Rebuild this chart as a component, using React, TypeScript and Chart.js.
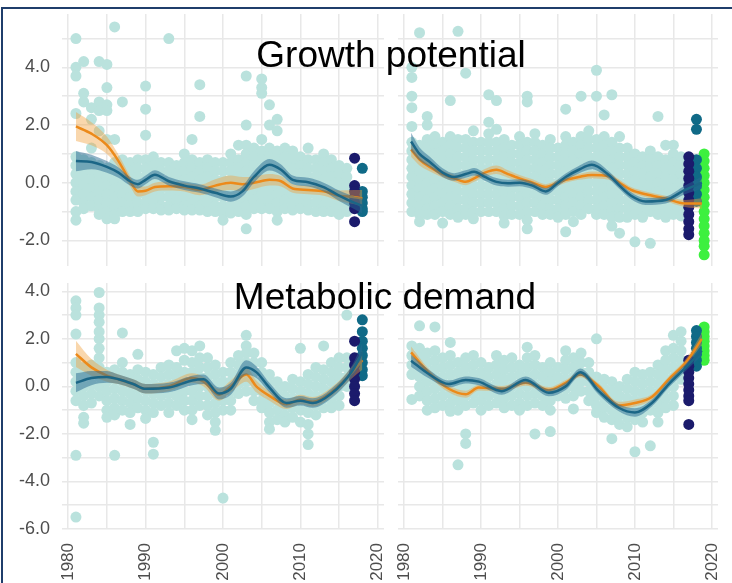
import React, { useEffect, useRef } from 'react';
import { Chart, registerables } from 'chart.js';

Chart.register(...registerables);

type Col = [number, number[]];

// ---------- axes ----------
const xTicks = [1980, 1985, 1990, 1995, 2000, 2005, 2010, 2015, 2020];
const yTicksTop = [-2, -1, 0, 1, 2, 3, 4, 5];
const yTicksBottom = [-6, -5, -4, -3, -2, -1, 0, 1, 2, 3, 4];
const titleTop = 'Growth potential';
const titleBottom = 'Metabolic demand';

// ---------- Growth potential, left ----------
const gpLPale: Col[] = [
  [1981, [5.0, 4.0, 3.7, 2.4, 0.9, 0.6, 0.3, 0.0, -0.3, -0.6, -1.0, -1.3]],
  [1982, [4.2, 3.1, 2.8, 0.8, 0.5, 0.2, -0.1, -0.4, -0.7, -0.9]],
  [1983, [2.6, 2.2, 1.2, 0.7, 0.4, 0.1, -0.2, -0.5, -0.8]],
  [1984, [4.2, 2.8, 2.5, 1.8, 0.6, 0.3, 0.0, -0.3, -0.6, -0.9, -1.1]],
  [1985, [4.1, 3.3, 2.7, 2.5, 1.5, 0.5, 0.2, -0.1, -0.4, -0.7, -1.0, -1.25]],
  [1986, [5.4, 1.5, 0.7, 0.4, 0.1, -0.2, -0.5, -0.8, -1.1, -1.25]],
  [1987, [2.8, 0.8, 0.5, 0.2, -0.1, -0.4, -0.7, -1.0]],
  [1988, [0.7, 0.4, 0.1, -0.2, -0.5, -0.8, -1.0]],
  [1989, [0.8, 0.5, 0.2, -0.1, -0.4, -0.7, -1.0]],
  [1990, [3.35, 2.55, 1.65, 0.8, 0.5, 0.2, -0.1, -0.4, -0.7, -0.9]],
  [1991, [0.9, 0.6, 0.3, 0.0, -0.3, -0.6, -0.9]],
  [1992, [0.7, 0.4, 0.1, -0.2, -0.5, -0.8, -0.95]],
  [1993, [5.0, 0.7, 0.4, 0.1, -0.2, -0.5, -0.8, -0.95]],
  [1994, [0.6, 0.3, 0.0, -0.3, -0.6, -0.9]],
  [1995, [1.0, 0.7, 0.4, 0.1, -0.2, -0.5, -0.8, -0.95]],
  [1996, [1.5, 0.8, 0.5, 0.2, -0.1, -0.4, -0.7, -0.95]],
  [1997, [3.4, 2.3, 0.7, 0.4, 0.1, -0.2, -0.5, -0.8, -0.95]],
  [1998, [0.8, 0.5, 0.2, -0.1, -0.4, -0.7, -1.0]],
  [1999, [0.7, 0.4, 0.1, -0.2, -0.5, -0.8, -1.0]],
  [2000, [0.7, 0.4, 0.1, -0.2, -0.5, -0.8, -1.05, -1.3]],
  [2001, [1.0, 0.7, 0.4, 0.1, -0.2, -0.5, -0.8, -1.05]],
  [2002, [1.3, 0.8, 0.5, 0.2, -0.1, -0.4, -0.7, -1.0]],
  [2003, [3.7, 2.0, 1.3, 1.0, 0.7, 0.4, 0.1, -0.2, -0.5, -0.8, -1.1, -1.6]],
  [2004, [1.2, 0.9, 0.6, 0.3, 0.0, -0.3, -0.6, -0.9]],
  [2005, [3.6, 3.3, 3.1, 1.5, 1.1, 0.8, 0.5, 0.2, -0.1, -0.4, -0.7, -0.9]],
  [2006, [2.7, 2.0, 1.2, 0.9, 0.6, 0.3, 0.0, -0.3, -0.6, -0.9]],
  [2007, [2.2, 1.8, 1.1, 0.8, 0.5, 0.2, -0.1, -0.4, -0.7, -1.0, -1.3]],
  [2008, [1.2, 0.9, 0.6, 0.3, 0.0, -0.3, -0.6, -0.9]],
  [2009, [1.1, 0.8, 0.5, 0.2, -0.1, -0.4, -0.7, -0.95]],
  [2010, [0.9, 0.6, 0.3, 0.0, -0.3, -0.6, -0.9]],
  [2011, [1.2, 0.8, 0.5, 0.2, -0.1, -0.4, -0.7, -0.95]],
  [2012, [0.8, 0.5, 0.2, -0.1, -0.4, -0.7, -1.0]],
  [2013, [1.0, 0.7, 0.4, 0.1, -0.2, -0.5, -0.8, -1.0]],
  [2014, [0.8, 0.5, 0.2, -0.1, -0.4, -0.7, -1.0]],
  [2015, [0.6, 0.3, 0.0, -0.3, -0.6, -0.9, -1.1]],
  [2016, [0.5, 0.2, -0.1, -0.4, -0.7, -1.0]],
];
const gpLNavy: Col[] = [[2017, [0.85, -0.1, -0.3, -0.5, -0.7, -0.9, -1.35]]];
const gpLTeal: Col[] = [[2018, [0.5, -0.3, -0.5, -0.7, -0.9, -1.0]]];
const gpLGreen: Col[] = [];
const gpLYears = [1981, 1983, 1985, 1986.5, 1988, 1989, 1990, 1991.2, 1993, 1995, 1997, 1999, 2001, 2002.5, 2004, 2006, 2007.5, 2009, 2011, 2013, 2015, 2017, 2018];
const gpLBlue = [0.75, 0.72, 0.55, 0.35, 0.05, -0.05, 0.1, 0.28, 0.05, -0.1, -0.2, -0.35, -0.48, -0.3, 0.2, 0.62, 0.45, 0.1, 0.02, -0.15, -0.45, -0.7, -0.8];
const gpLOrange = [1.95, 1.7, 1.3, 0.75, 0.05, -0.3, -0.28, -0.15, -0.12, -0.15, -0.25, -0.1, 0.0, -0.05, 0.0, 0.1, 0.05, -0.2, -0.25, -0.3, -0.45, -0.5, -0.55];
const gpLBlueSe = [0.35, 0.25, 0.2, 0.18, 0.15, 0.15, 0.15, 0.15, 0.15, 0.15, 0.15, 0.15, 0.18, 0.18, 0.2, 0.2, 0.18, 0.15, 0.15, 0.15, 0.18, 0.22, 0.28];
const gpLOrangeSe = [0.5, 0.4, 0.3, 0.22, 0.18, 0.18, 0.15, 0.15, 0.15, 0.15, 0.18, 0.22, 0.25, 0.25, 0.22, 0.2, 0.18, 0.15, 0.15, 0.15, 0.18, 0.25, 0.3];

// ---------- Growth potential, right ----------
const gpRPale: Col[] = [
  [1981, [4.0, 3.65, 3.0, 2.6, 1.95, 1.4, 1.1, 0.8, 0.5, 0.2, -0.1, -0.4, -0.7, -1.0]],
  [1982, [5.2, 1.3, 1.0, 0.7, 0.4, 0.1, -0.2, -0.5, -0.8, -1.1, -1.35]],
  [1983, [2.3, 2.0, 1.5, 1.2, 0.9, 0.6, 0.3, 0.0, -0.3, -0.6, -0.9, -1.1]],
  [1984, [1.6, 1.3, 1.0, 0.7, 0.4, 0.1, -0.2, -0.5, -0.8, -1.1]],
  [1985, [1.4, 1.1, 0.8, 0.5, 0.2, -0.1, -0.4, -0.7, -1.0, -1.4]],
  [1986, [2.85, 1.6, 1.3, 1.0, 0.7, 0.4, 0.1, -0.2, -0.5, -0.8, -1.1]],
  [1987, [5.25, 1.5, 1.2, 0.9, 0.6, 0.3, 0.0, -0.3, -0.6, -0.9, -1.2]],
  [1988, [3.8, 1.5, 1.2, 0.9, 0.6, 0.3, 0.0, -0.3, -0.6, -0.9, -1.1]],
  [1989, [1.8, 1.4, 1.1, 0.8, 0.5, 0.2, -0.1, -0.4, -0.7, -1.0, -1.25]],
  [1990, [1.4, 1.1, 0.8, 0.5, 0.2, -0.1, -0.4, -0.7, -1.0]],
  [1991, [3.05, 2.1, 1.7, 1.4, 1.1, 0.8, 0.5, 0.2, -0.1, -0.4, -0.7, -1.0]],
  [1992, [2.85, 1.85, 1.4, 1.1, 0.8, 0.5, 0.2, -0.1, -0.4, -0.7, -1.0]],
  [1993, [1.5, 1.2, 0.9, 0.6, 0.3, 0.0, -0.3, -0.6, -0.9, -1.15, -1.4]],
  [1994, [1.3, 1.0, 0.7, 0.4, 0.1, -0.2, -0.5, -0.8, -1.1]],
  [1995, [1.6, 1.3, 1.0, 0.7, 0.4, 0.1, -0.2, -0.5, -0.8, -1.1]],
  [1996, [3.0, 2.8, 1.4, 1.1, 0.8, 0.5, 0.2, -0.1, -0.4, -0.7, -1.0, -1.3, -1.6]],
  [1997, [1.7, 1.4, 1.1, 0.8, 0.5, 0.2, -0.1, -0.4, -0.7, -1.0]],
  [1998, [1.3, 1.0, 0.7, 0.4, 0.1, -0.2, -0.5, -0.8, -1.1]],
  [1999, [1.5, 1.2, 0.9, 0.6, 0.3, 0.0, -0.3, -0.6, -0.9, -1.1]],
  [2000, [1.2, 0.9, 0.6, 0.3, 0.0, -0.3, -0.6, -0.9, -1.2]],
  [2001, [2.55, 1.6, 1.3, 1.0, 0.7, 0.4, 0.1, -0.2, -0.5, -0.8, -1.1, -1.7]],
  [2002, [1.4, 1.1, 0.8, 0.5, 0.2, -0.1, -0.4, -0.7, -1.0, -1.35]],
  [2003, [3.0, 1.6, 1.3, 1.0, 0.7, 0.4, 0.1, -0.2, -0.5, -0.8, -1.1]],
  [2004, [1.8, 1.5, 1.2, 0.9, 0.6, 0.3, 0.0, -0.3, -0.6, -0.9]],
  [2005, [3.9, 3.0, 1.5, 1.2, 0.9, 0.6, 0.3, 0.0, -0.3, -0.6, -0.9, -1.1]],
  [2006, [2.35, 1.6, 1.3, 1.0, 0.7, 0.4, 0.1, -0.2, -0.5, -0.8, -1.1]],
  [2007, [3.05, 1.4, 1.1, 0.8, 0.5, 0.2, -0.1, -0.4, -0.7, -1.0, -1.2, -1.5]],
  [2008, [1.6, 1.2, 0.9, 0.6, 0.3, 0.0, -0.3, -0.6, -0.9, -1.2, -1.75]],
  [2009, [1.2, 0.9, 0.6, 0.3, 0.0, -0.3, -0.6, -0.9, -1.2]],
  [2010, [1.0, 0.7, 0.4, 0.1, -0.2, -0.5, -0.8, -1.1, -2.05]],
  [2011, [0.9, 0.6, 0.3, 0.0, -0.3, -0.6, -0.9, -1.2]],
  [2012, [1.1, 0.8, 0.5, 0.2, -0.1, -0.4, -0.7, -1.0, -2.1]],
  [2013, [2.3, 0.9, 0.6, 0.3, 0.0, -0.3, -0.6, -0.9, -1.1]],
  [2014, [1.3, 0.8, 0.5, 0.2, -0.1, -0.4, -0.7, -1.0, -1.2]],
  [2015, [1.3, 1.0, 0.7, 0.4, 0.1, -0.2, -0.5, -0.8, -1.1]],
  [2016, [0.9, 0.6, 0.3, 0.0, -0.3, -0.6, -0.9, -1.15]],
];
const gpRNavy: Col[] = [[2017, [0.9, 0.65, 0.4, 0.15, -0.1, -0.35, -0.6, -0.85, -1.1, -1.35, -1.6, -1.8]]];
const gpRTeal: Col[] = [[2018, [2.2, 1.85, 0.8, 0.5, 0.2, -0.1, -0.4, -0.65]]];
const gpRGreen: Col[] = [[2019, [1.0, 0.75, 0.5, 0.25, 0.0, -0.25, -0.5, -0.75, -1.0, -1.25, -1.5, -1.75, -2.0, -2.2, -2.5]]];
const gpRYears = [1980.9, 1982, 1983.3, 1985, 1986.5, 1988, 1989.1, 1990.5, 1992, 1993.5, 1995, 1996.7, 1998.4, 2000, 2001, 2002.7, 2004.4, 2006.6, 2008, 2009.5, 2011.4, 2014, 2016.5, 2018.7];
const gpRBlue = [1.43, 1.0, 0.73, 0.35, 0.2, 0.3, 0.38, 0.2, 0.03, -0.02, 0.0, -0.1, -0.3, 0.0, 0.2, 0.45, 0.62, 0.27, -0.1, -0.45, -0.65, -0.6, -0.25, 0.0];
const gpROrange = [1.15, 0.8, 0.55, 0.3, 0.15, 0.03, 0.15, 0.35, 0.45, 0.3, 0.15, 0.0, -0.15, 0.0, 0.1, 0.2, 0.27, 0.22, 0.0, -0.25, -0.4, -0.55, -0.72, -0.72];
const gpRBlueSe = [0.3, 0.22, 0.18, 0.15, 0.13, 0.13, 0.13, 0.13, 0.13, 0.12, 0.12, 0.12, 0.12, 0.12, 0.12, 0.13, 0.15, 0.13, 0.12, 0.12, 0.12, 0.12, 0.15, 0.22];
const gpROrangeSe = [0.25, 0.2, 0.15, 0.12, 0.12, 0.12, 0.12, 0.13, 0.15, 0.13, 0.12, 0.12, 0.1, 0.1, 0.1, 0.1, 0.12, 0.12, 0.1, 0.1, 0.1, 0.1, 0.12, 0.18];

// ---------- Metabolic demand, left ----------
const mdLPale: Col[] = [
  [1981, [3.6, 3.3, 3.0, 2.2, 1.0, 0.6, 0.2, -0.2, -0.6, -2.9, -5.5]],
  [1982, [0.8, 0.4, 0.0, -0.4, -0.8, -1.3, -1.55]],
  [1983, [0.9, 0.5, 0.1, -0.3, -0.7]],
  [1984, [3.95, 3.3, 3.0, 2.7, 2.3, 2.0, 1.6, 1.2, 0.8, 0.4, 0.0, -0.4]],
  [1985, [0.6, 0.2, -0.2, -0.6, -1.0, -1.3]],
  [1986, [0.7, 0.3, -0.1, -0.5, -0.9, -1.2, -2.9]],
  [1987, [2.25, 1.0, 0.6, 0.2, -0.2, -0.6, -1.0]],
  [1988, [0.5, 0.1, -0.3, -0.7, -1.1, -1.6]],
  [1989, [1.35, 0.7, 0.3, -0.1, -0.5, -0.9]],
  [1990, [0.6, 0.2, -0.2, -0.6, -1.0, -1.35]],
  [1991, [0.5, 0.1, -0.3, -0.7, -1.1, -2.35, -2.85]],
  [1992, [0.8, 0.4, 0.0, -0.4, -0.8]],
  [1993, [0.9, 0.5, 0.1, -0.3, -0.7, -1.1]],
  [1994, [1.5, 0.8, 0.4, 0.0, -0.4, -0.8]],
  [1995, [1.6, 1.1, 0.6, 0.2, -0.2, -0.6, -1.0]],
  [1996, [1.5, 1.0, 0.6, 0.2, -0.2, -0.6, -1.0, -1.4]],
  [1997, [1.7, 1.2, 0.8, 0.4, 0.0, -0.4, -0.8]],
  [1998, [1.2, 0.8, 0.4, 0.0, -0.4, -0.8, -1.2]],
  [1999, [0.9, 0.5, 0.1, -0.3, -0.7, -1.1, -1.5, -1.85]],
  [2000, [0.6, 0.2, -0.2, -0.6, -1.0, -4.7]],
  [2001, [1.0, 0.6, 0.2, -0.2, -0.6, -1.0]],
  [2002, [1.3, 0.9, 0.5, 0.1, -0.3]],
  [2003, [2.15, 1.7, 1.4, 1.0, 0.6, 0.2, -0.2]],
  [2004, [1.4, 1.0, 0.6, 0.2, -0.2, -0.6]],
  [2005, [1.0, 0.6, 0.2, -0.2, -0.6, -0.9]],
  [2006, [0.5, 0.1, -0.3, -0.7, -1.1, -1.5, -1.8]],
  [2007, [0.2, -0.2, -0.6, -1.0, -1.4]],
  [2008, [0.0, -0.4, -0.8, -1.2, -1.5]],
  [2009, [0.3, -0.1, -0.5, -0.9, -1.3]],
  [2010, [1.6, 0.2, -0.2, -0.6, -1.0, -1.5]],
  [2011, [0.5, 0.1, -0.3, -0.7, -1.1, -1.6, -2.0, -2.45]],
  [2012, [0.8, 0.4, 0.0, -0.4, -0.8, -1.2]],
  [2013, [1.7, 0.7, 0.3, -0.1, -0.5, -0.9]],
  [2014, [1.0, 0.6, 0.2, -0.2, -0.6, -0.9]],
  [2015, [1.2, 0.8, 0.4, 0.0, -0.4, -0.8]],
  [2016, [3.0, 1.2, 0.8, 0.4, 0.0]],
];
const mdLNavy: Col[] = [[2017, [1.9, 1.2, 0.9, 0.6, 0.3, 0.0, -0.3, -0.6]]];
const mdLTeal: Col[] = [[2018, [2.8, 2.3, 1.9, 1.6, 1.3, 1.0, 0.7, 0.45]]];
const mdLGreen: Col[] = [];
const mdLYears = [1981, 1983, 1985, 1986.5, 1988.4, 1990, 1993, 1996, 1997.5, 1999.5, 2001, 2003, 2004.3, 2006, 2008.2, 2010, 2011.6, 2014, 2016.7, 2018];
const mdLBlue = [0.15, 0.35, 0.4, 0.3, 0.1, -0.1, -0.05, 0.25, 0.3, -0.3, -0.1, 0.8, 0.6, -0.05, -0.7, -0.6, -0.7, -0.3, 0.65, 1.43];
const mdLOrange = [1.37, 0.8, 0.45, 0.3, 0.1, -0.1, 0.0, 0.35, 0.2, -0.35, 0.0, 0.5, 0.0, -0.4, -0.75, -0.55, -0.65, -0.25, 0.6, 1.1];
const mdLBlueSe = [0.4, 0.3, 0.25, 0.2, 0.2, 0.2, 0.2, 0.2, 0.2, 0.25, 0.25, 0.3, 0.25, 0.2, 0.2, 0.2, 0.2, 0.2, 0.25, 0.4];
const mdLOrangeSe = [0.55, 0.35, 0.25, 0.2, 0.2, 0.2, 0.2, 0.2, 0.2, 0.25, 0.25, 0.3, 0.25, 0.2, 0.2, 0.2, 0.2, 0.2, 0.25, 0.4];

// ---------- Metabolic demand, right ----------
const mdRPale: Col[] = [
  [1981, [1.7, 1.3, 0.9, 0.5, -0.55]],
  [1982, [2.55, 1.6, 1.2, 0.8, 0.4, 0.0, -0.4]],
  [1983, [1.4, 1.0, 0.6, 0.2, -0.2, -0.6, -1.0]],
  [1984, [2.5, 1.5, 1.1, 0.7, 0.3, -0.1, -0.5, -0.9]],
  [1985, [1.2, 0.8, 0.4, 0.0, -0.4, -0.8]],
  [1986, [1.85, 1.3, 0.9, 0.5, 0.1, -0.3, -0.7, -1.05]],
  [1987, [1.0, 0.6, 0.2, -0.2, -0.6, -1.0, -3.3]],
  [1988, [1.2, 0.8, 0.4, 0.0, -0.4, -0.8, -2.0, -2.4]],
  [1989, [1.3, 0.9, 0.5, 0.1, -0.3, -0.7]],
  [1990, [1.0, 0.6, 0.2, -0.2, -0.6, -1.0]],
  [1991, [0.8, 0.4, 0.0, -0.4, -0.8]],
  [1992, [1.3, 0.9, 0.5, 0.1, -0.3, -0.7]],
  [1993, [1.1, 0.7, 0.3, -0.1, -0.5, -0.9]],
  [1994, [1.2, 0.8, 0.4, 0.0, -0.4, -0.8]],
  [1995, [0.9, 0.5, 0.1, -0.3, -0.7, -1.0]],
  [1996, [1.65, 1.2, 0.8, 0.4, 0.0, -0.4, -0.8]],
  [1997, [1.3, 0.9, 0.5, 0.1, -0.3, -0.7, -2.0]],
  [1998, [0.8, 0.4, 0.0, -0.4, -0.8]],
  [1999, [1.0, 0.6, 0.2, -0.2, -0.6, -1.0, -1.9]],
  [2000, [0.8, 0.4, 0.0, -0.4]],
  [2001, [1.5, 1.1, 0.7, 0.3, -0.1, -0.5]],
  [2002, [1.2, 0.8, 0.4, 0.0, -0.4, -0.95]],
  [2003, [1.4, 1.0, 0.6, 0.2, -0.2]],
  [2004, [1.0, 0.6, 0.2, -0.2, -0.6]],
  [2005, [2.0, 0.4, 0.0, -0.4, -0.8, -1.1]],
  [2006, [0.3, -0.1, -0.5, -0.9, -1.3]],
  [2007, [0.2, -0.2, -0.6, -1.0, -1.4, -2.2]],
  [2008, [0.0, -0.4, -0.8, -1.2, -1.6]],
  [2009, [0.3, -0.1, -0.5, -0.9, -1.3, -1.7]],
  [2010, [0.6, 0.2, -0.2, -0.6, -1.0, -1.4, -2.75]],
  [2011, [0.5, 0.1, -0.3, -0.7, -1.1, -1.5]],
  [2012, [0.6, 0.2, -0.2, -0.6, -1.0, -2.5]],
  [2013, [0.9, 0.5, 0.1, -0.3, -0.7, -1.1, -1.5]],
  [2014, [1.5, 1.1, 0.7, 0.3, -0.1, -0.5, -0.9]],
  [2015, [2.15, 1.6, 1.2, 0.8, 0.4, 0.0, -0.4, -0.8]],
  [2016, [2.3, 1.9, 1.5, 1.1, 0.7, 0.3]],
];
const mdRNavy: Col[] = [[2017, [1.1, 0.85, 0.6, 0.35, 0.1, -0.15, -0.4, -0.6, -1.6]]];
const mdRTeal: Col[] = [[2018, [2.35, 2.1, 1.85, 1.6, 1.35, 1.1, 0.85]]];
const mdRGreen: Col[] = [[2019, [2.5, 2.3, 2.1, 1.9, 1.7, 1.5, 1.3, 1.1]]];
const mdRYears = [1980.9, 1983.2, 1985.8, 1988, 1989.7, 1992.7, 1995.8, 1998.8, 2001, 2002.9, 2005.3, 2007.9, 2010, 2012.2, 2014.4, 2016.6, 2018.7];
const mdRBlue = [1.08, 0.52, 0.1, 0.27, 0.2, -0.2, 0.27, -0.27, 0.0, 0.6, -0.2, -0.9, -1.1, -0.7, 0.1, 0.8, 1.5];
const mdROrange = [1.43, 0.58, -0.1, -0.33, -0.05, -0.1, 0.15, -0.15, 0.15, 0.5, 0.0, -0.8, -0.7, -0.45, 0.3, 1.0, 2.0];
const mdRBlueSe = [0.25, 0.18, 0.15, 0.15, 0.15, 0.15, 0.15, 0.15, 0.15, 0.15, 0.15, 0.15, 0.18, 0.15, 0.15, 0.15, 0.2];
const mdROrangeSe = [0.25, 0.15, 0.15, 0.15, 0.12, 0.12, 0.12, 0.12, 0.12, 0.12, 0.12, 0.15, 0.15, 0.12, 0.12, 0.15, 0.25];

// ---------- styles ----------
const PALE = '#bae2dd';
const NAVY = '#1b1b6c';
const TEAL = '#106a87';
const GREEN = '#3df03f';
const ORANGE_LINE = '#ec8a1a';
const ORANGE_RIBBON = 'rgba(240,160,60,0.42)';
const BLUE_LINE = '#1b6686';
const BLUE_RIBBON = 'rgba(40,105,145,0.5)';
const GRID = '#e8e8e8';
const TICK = '#4d4d4d';
const FONT = "'Liberation Sans', Arial, Helvetica, sans-serif";

type PanelCfg = {
  left: number; top: number; w: number; h: number;
  padTop: number; padRight: number; yAxisW: number; xAxisH: number;
  showX: boolean; showY: boolean;
  yMin: number; yMax: number; yTicks: number[];
  pale: Col[]; navy: Col[]; teal: Col[]; green: Col[];
  years: number[]; blue: number[]; orange: number[]; blueSe: number[]; orangeSe: number[];
};

const toPts = (cols: Col[]) => cols.flatMap(([x, vs]) => vs.map((y) => ({ x, y })));
const curve = (xs: number[], ys: number[], se: number[] | null, sign: number) =>
  xs.map((x, i) => ({ x, y: ys[i] + (se ? sign * se[i] : 0) }));

function Panel({ cfg }: { cfg: PanelCfg }) {
  const ref = useRef<HTMLCanvasElement>(null);
  useEffect(() => {
    const c = cfg;
    const lineBase = {
      type: 'line' as const,
      pointRadius: 0,
      cubicInterpolationMode: 'monotone' as const,
      clip: 0,
    };
    const ribbon = (mean: number[], se: number[], color: string, order: number) => [
      { ...lineBase, data: curve(c.years, mean, se, 1), borderColor: 'rgba(0,0,0,0)', borderWidth: 0, fill: false, order },
      { ...lineBase, data: curve(c.years, mean, se, -1), borderColor: 'rgba(0,0,0,0)', borderWidth: 0, fill: '-1', backgroundColor: color, order },
    ];
    const dot = (cols: Col[], color: string, order: number) => ({
      type: 'scatter' as const,
      data: toPts(cols),
      backgroundColor: color,
      borderWidth: 0,
      pointRadius: 5.5,
      clip: false,
      order,
    });
    const datasets: any[] = [
      dot(c.pale, PALE, 9),
      dot(c.navy, NAVY, 8),
      dot(c.teal, TEAL, 8),
      dot(c.green, GREEN, 8),
      ...ribbon(c.orange, c.orangeSe, ORANGE_RIBBON, 6),
      { ...lineBase, data: curve(c.years, c.orange, null, 0), borderColor: ORANGE_LINE, borderWidth: 2.5, fill: false, order: 5 },
      ...ribbon(c.blue, c.blueSe, BLUE_RIBBON, 4),
      { ...lineBase, data: curve(c.years, c.blue, null, 0), borderColor: BLUE_LINE, borderWidth: 2.5, fill: false, order: 3 },
    ];
    const chart = new Chart(ref.current as HTMLCanvasElement, {
      type: 'scatter',
      data: { datasets },
      options: {
        animation: false,
        responsive: false,
        devicePixelRatio: 1,
        events: [],
        layout: { padding: { top: c.padTop, right: c.padRight, left: 0, bottom: 0 } },
        plugins: { legend: { display: false }, tooltip: { enabled: false } },
        scales: {
          x: {
            type: 'linear',
            min: 1979.2,
            max: 2020.8,
            afterBuildTicks: (s: any) => { s.ticks = xTicks.map((v) => ({ value: v })); },
            afterFit: (s: any) => {
              s.height = c.xAxisH;
              s.paddingLeft = 0; s.paddingRight = 0; s.paddingTop = 0; s.paddingBottom = 0;
            },
            grid: { color: GRID, lineWidth: 1.5, drawTicks: false },
            border: { display: false },
            ticks: {
              display: c.showX,
              autoSkip: false,
              minRotation: 90,
              maxRotation: 90,
              padding: 14,
              color: TICK,
              font: { family: FONT, size: 17 },
              callback: (v: any) => (Number(v) % 10 === 0 ? String(v) : ''),
            },
          },
          y: {
            type: 'linear',
            min: c.yMin,
            max: c.yMax,
            afterBuildTicks: (s: any) => { s.ticks = c.yTicks.map((v) => ({ value: v })); },
            afterFit: (s: any) => {
              s.width = c.yAxisW;
              s.paddingLeft = 0; s.paddingRight = 0; s.paddingTop = 0; s.paddingBottom = 0;
            },
            grid: { color: GRID, lineWidth: 1.5, drawTicks: false },
            border: { display: false },
            ticks: {
              display: c.showY,
              padding: 12,
              color: TICK,
              font: { family: FONT, size: 18 },
              callback: (v: any) => (Number(v) % 2 === 0 ? Number(v).toFixed(1) : ''),
            },
          },
        },
      } as any,
    });
    return () => chart.destroy();
  }, [cfg]);
  return (
    <canvas
      ref={ref}
      width={cfg.w}
      height={cfg.h}
      style={{ position: 'absolute', left: cfg.left, top: cfg.top, width: cfg.w, height: cfg.h }}
    />
  );
}

const panels: PanelCfg[] = [
  {
    left: 0, top: 0, w: 390, h: 271, padTop: 14, padRight: 6, yAxisW: 62, xAxisH: 0,
    showX: false, showY: true, yMin: -2.87, yMax: 5.85, yTicks: yTicksTop,
    pale: gpLPale, navy: gpLNavy, teal: gpLTeal, green: gpLGreen,
    years: gpLYears, blue: gpLBlue, orange: gpLOrange, blueSe: gpLBlueSe, orangeSe: gpLOrangeSe,
  },
  {
    left: 390, top: 0, w: 342, h: 271, padTop: 14, padRight: 14, yAxisW: 8, xAxisH: 0,
    showX: false, showY: false, yMin: -2.87, yMax: 5.85, yTicks: yTicksTop,
    pale: gpRPale, navy: gpRNavy, teal: gpRTeal, green: gpRGreen,
    years: gpRYears, blue: gpRBlue, orange: gpROrange, blueSe: gpRBlueSe, orangeSe: gpROrangeSe,
  },
  {
    left: 0, top: 270, w: 390, h: 313, padTop: 13, padRight: 6, yAxisW: 62, xAxisH: 54,
    showX: true, showY: true, yMin: -6.0, yMax: 4.35, yTicks: yTicksBottom,
    pale: mdLPale, navy: mdLNavy, teal: mdLTeal, green: mdLGreen,
    years: mdLYears, blue: mdLBlue, orange: mdLOrange, blueSe: mdLBlueSe, orangeSe: mdLOrangeSe,
  },
  {
    left: 390, top: 270, w: 342, h: 313, padTop: 13, padRight: 14, yAxisW: 8, xAxisH: 54,
    showX: true, showY: false, yMin: -6.0, yMax: 4.35, yTicks: yTicksBottom,
    pale: mdRPale, navy: mdRNavy, teal: mdRTeal, green: mdRGreen,
    years: mdRYears, blue: mdRBlue, orange: mdROrange, blueSe: mdRBlueSe, orangeSe: mdROrangeSe,
  },
];

export default function App() {
  const titleStyle: React.CSSProperties = {
    position: 'absolute',
    fontFamily: FONT,
    fontSize: 37,
    lineHeight: '37px',
    color: '#000',
    whiteSpace: 'nowrap',
    transform: 'translateX(-50%)',
  };
  return (
    <div style={{ position: 'absolute', left: 0, top: 0, width: 732, height: 583, overflow: 'hidden', background: '#fff' }}>
      {panels.map((p, i) => (
        <Panel key={i} cfg={p} />
      ))}
      <div style={{ ...titleStyle, left: 391, top: 36 }}>{titleTop}</div>
      <div style={{ ...titleStyle, left: 385, top: 278 }}>{titleBottom}</div>
      <div style={{ position: 'absolute', left: 1, top: 7, width: 780, height: 640, border: '2px solid #1f3d6b' }} />
    </div>
  );
}
